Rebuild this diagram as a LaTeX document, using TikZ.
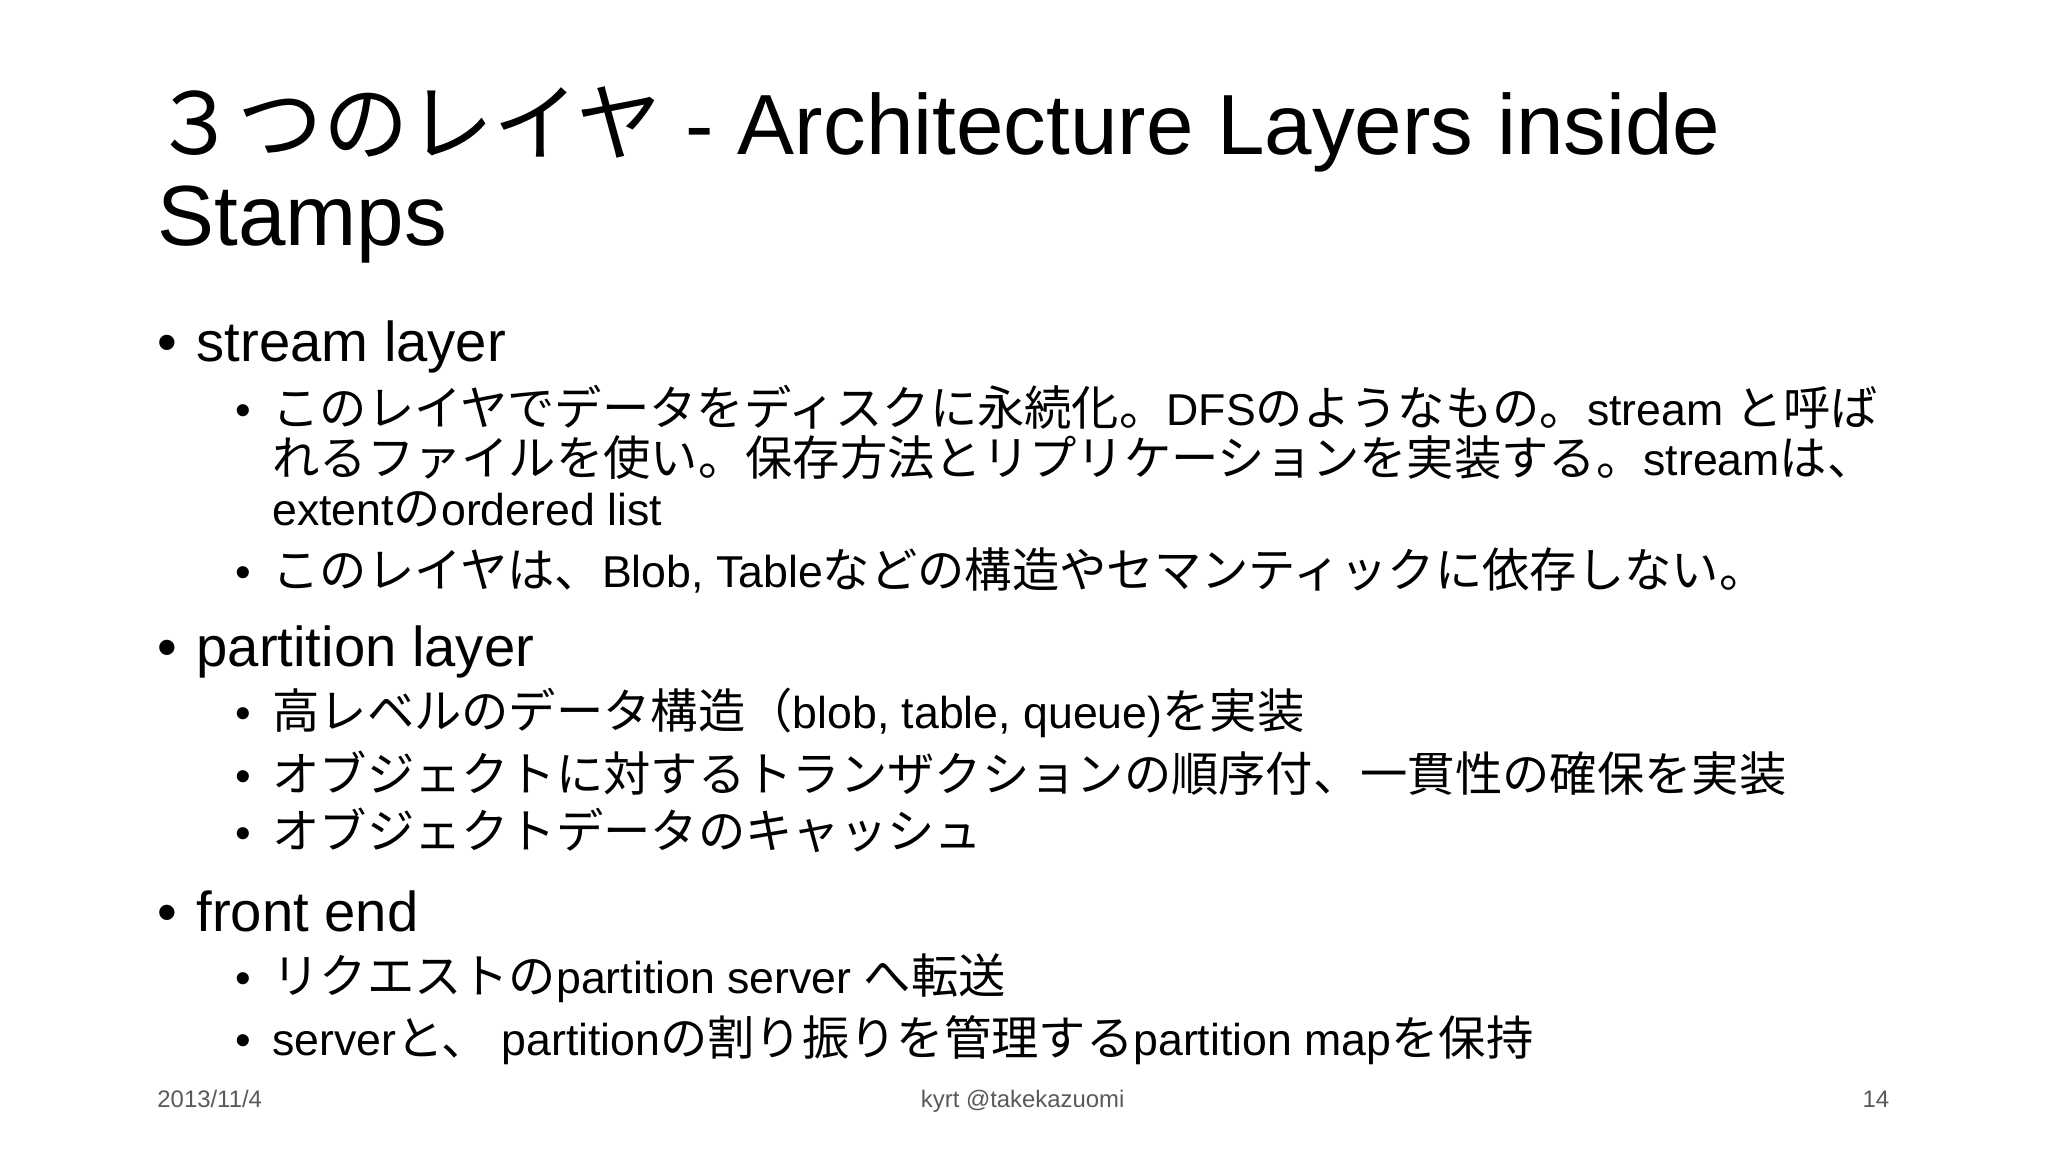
\documentclass[tikz,border=0pt]{standalone}
\usepackage{fontspec}
\setmainfont{Liberation Sans}
\newfontfamily\cjk[Scale=1.06]{Noto Sans CJK JP}
\newfontfamily\cjkt{Noto Sans CJK JP}
\newcommand{\J}[1]{{\cjk #1}}
\begin{document}
\begin{tikzpicture}[x=0.01306cm,y=-0.01306cm,
  ttl/.style={anchor=base west,inner sep=0,font=\fontsize{24.3}{28}\selectfont},
  lone/.style={anchor=base west,inner sep=0,font=\fontsize{16}{20}\selectfont},
  ltwo/.style={anchor=base west,inner sep=0,font=\fontsize{12.7}{15}\selectfont},
  foot/.style={inner sep=0,font=\fontsize{6.8}{8}\selectfont,text=black!65}]
\useasboundingbox[fill=white] (0,0) rectangle (1568,882);
\node[ttl] (t1) at (116,118) {{\cjkt ３つのレイヤ} - Architecture Layers inside};
\node[ttl] (t2) at (120,188) {Stamps};
% level 1
\node[lone] (b1) at (120,277) {•};
\node[lone] (s1) at (150,277) {stream layer};
\node[lone] (b2) at (120,510) {•};
\node[lone] (s2) at (150,510) {partition layer};
\node[lone] (b3) at (120,713) {•};
\node[lone] (s3) at (150,713) {front end};
% level 2
\foreach \y in {326,450,558,606,650,761,808}{\node[ltwo] at (180,\y) {•};}
\node[ltwo] (a1) at (208,326) {\J{このレイヤでデータをディスクに永続化。}DFS\J{のようなもの。}stream \J{と呼ば}};
\node[ltwo] (a2) at (208,364) {\J{れるファイルを使い。保存方法とリプリケーションを実装する。}stream\J{は、}};
\node[ltwo] (a3) at (208,402) {extent\J{の}ordered list};
\node[ltwo] (a4) at (208,450) {\J{このレイヤは、}Blob, Table\J{などの構造やセマンティックに依存しない。}};
\node[ltwo] (p1) at (208,558) {\J{高レベルのデータ構造（}blob, table, queue)\J{を実装}};
\node[ltwo] (p2) at (208,606) {\J{オブジェクトに対するトランザクションの順序付、一貫性の確保を実装}};
\node[ltwo] (p3) at (208,650) {\J{オブジェクトデータのキャッシュ}};
\node[ltwo] (f1) at (208,761) {\J{リクエストの}partition server \J{へ転送}};
\node[ltwo] (f2) at (208,808) {server\J{と、} partition\J{の割り振りを管理する}partition map\J{を保持}};
% footer
\node[foot,anchor=base west] (d) at (120,848) {2013/11/4};
\node[foot,anchor=base] (k) at (783,848) {kyrt @takekazuomi};
\node[foot,anchor=base east] (n) at (1447,848) {14};
\end{tikzpicture}
\end{document}
